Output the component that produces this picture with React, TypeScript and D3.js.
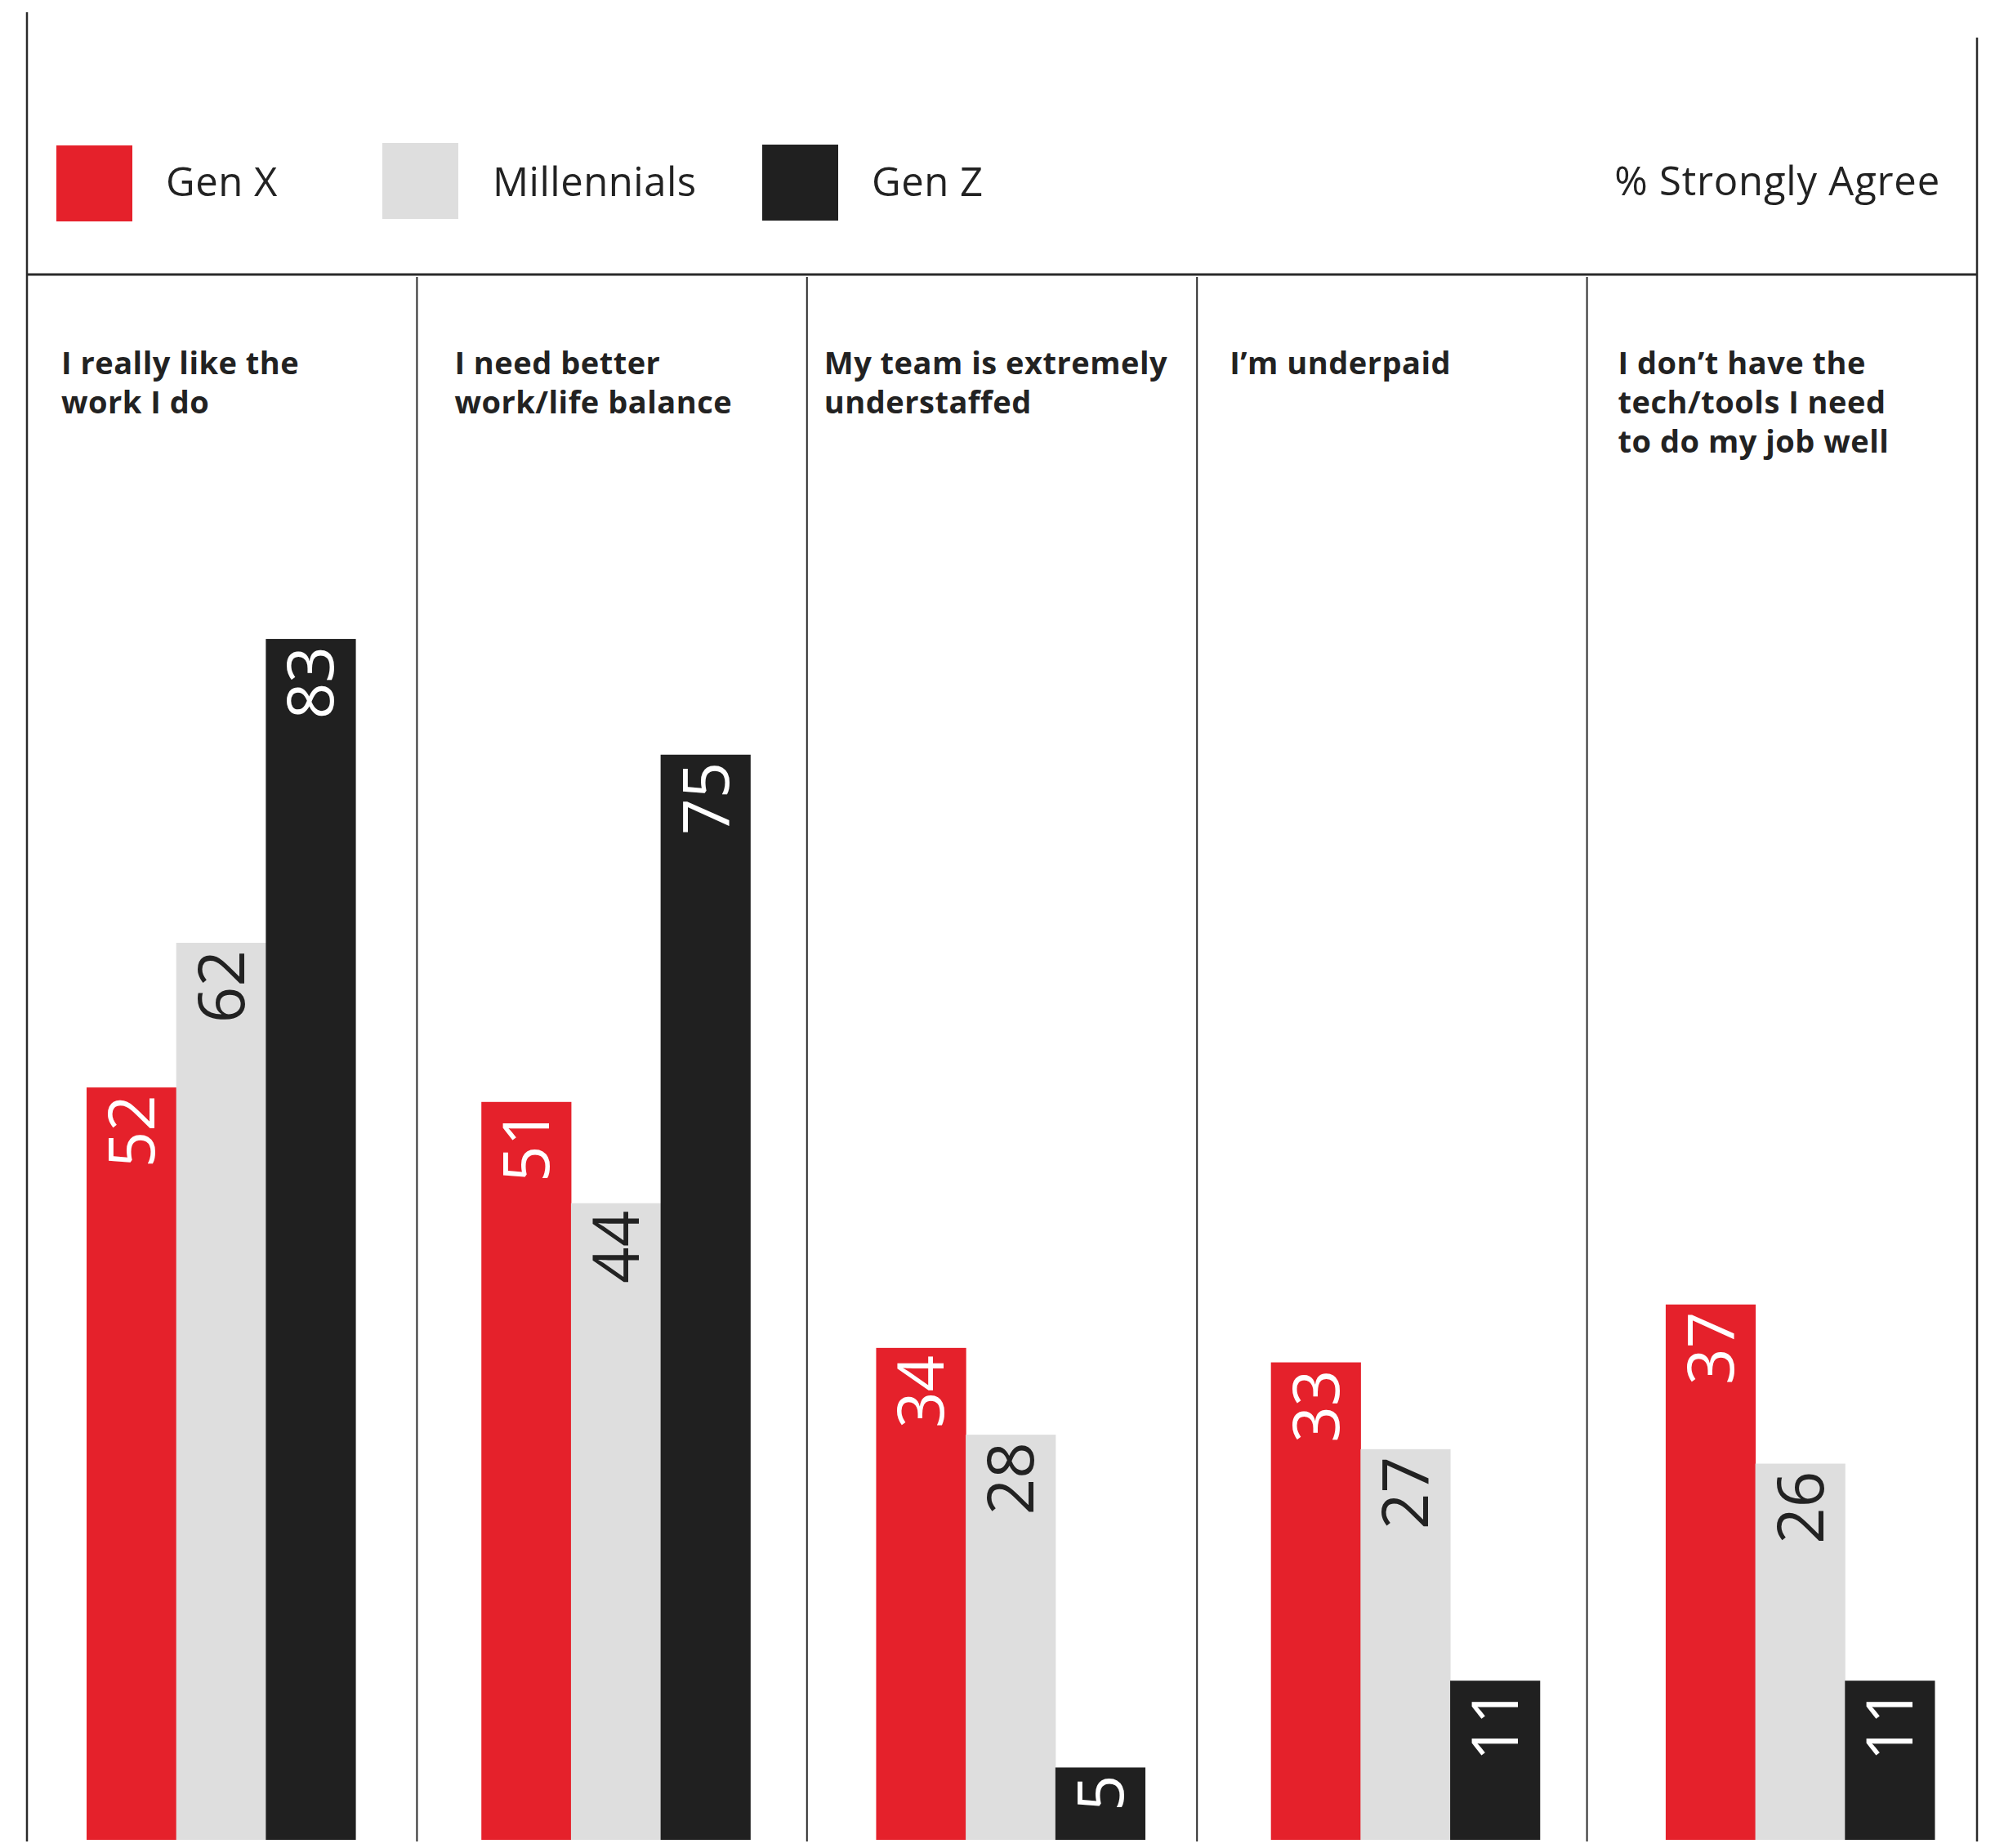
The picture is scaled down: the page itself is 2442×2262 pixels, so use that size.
import React from "react";
import * as d3 from "d3";

const categories = [
  "I really like the work I do",
  "I need better work/life balance",
  "My team is extremely understaffed",
  "I’m underpaid",
  "I don’t have the tech/tools I need to do my job well",
];
const categoryLines = [
  ["I really like the", "work I do"],
  ["I need better", "work/life balance"],
  ["My team is extremely", "understaffed"],
  ["I’m underpaid"],
  ["I don’t have the", "tech/tools I need", "to do my job well"],
];
const seriesNames = ["Gen X", "Millennials", "Gen Z"];
const genX = [52, 51, 34, 33, 37];
const millennials = [62, 44, 28, 27, 26];
const genZ = [83, 75, 5, 11, 11];
const seriesValues = [genX, millennials, genZ];
const unitLabel = "% Strongly Agree";

const COLORS = ["#E5212B", "#DEDEDE", "#202020"];
const LABEL_COLORS = ["#FFFFFF", "#222222", "#FFFFFF"];
const LABEL_OFFSETS = [42, 46, 21, 40, 38];
const FONT = "'Open Sans', 'Noto Sans', sans-serif";

export default function App() {
  const W = 2442;
  const H = 2262;
  const panelLeft = 33;
  const panelRight = 2420;
  const ruleY = 336;
  const baseY = 2252;

  const panels = d3.scaleBand<string>().domain(categories).range([panelLeft, panelRight]).padding(0);
  const x0 = d3
    .scaleBand<string>()
    .domain(categories)
    .range([106, 2368])
    .paddingInner(0.319)
    .paddingOuter(0);
  const x1 = d3.scaleBand<string>().domain(seriesNames).range([0, x0.bandwidth()]).padding(0);
  const y = d3.scaleLinear().domain([0, 100]).range([baseY, baseY - 1771]);

  const legendSquares = [
    { x: 69, y: 178 },
    { x: 468, y: 175 },
    { x: 933, y: 177 },
  ];
  const legendText = [203, 603, 1067];

  return (
    <svg
      width={W}
      height={H}
      style={{ position: "absolute", left: 0, top: 0, background: "#fff" }}
      fontFamily={FONT}
    >
      {/* frame lines */}
      <line x1={panelLeft} x2={panelLeft} y1={15} y2={2254} stroke="#2a2a2a" strokeWidth={2.5} />
      <line x1={panelRight} x2={panelRight} y1={46} y2={2254} stroke="#2a2a2a" strokeWidth={2.5} />
      <line x1={panelLeft} x2={panelRight} y1={ruleY} y2={ruleY} stroke="#2a2a2a" strokeWidth={3} />
      {categories.slice(1).map((c) => (
        <line
          key={c}
          x1={panels(c)!}
          x2={panels(c)!}
          y1={339}
          y2={2254}
          stroke="#2a2a2a"
          strokeWidth={2}
        />
      ))}

      {/* legend */}
      {seriesNames.map((s, i) => (
        <g key={s}>
          <rect x={legendSquares[i].x} y={legendSquares[i].y} width={93} height={93} fill={COLORS[i]} />
          <text x={legendText[i]} y={240} fontSize={49} fill="#222" letterSpacing={0.5}>
            {s}
          </text>
        </g>
      ))}
      <text x={2375} y={239} fontSize={49} fill="#222" textAnchor="end" letterSpacing={0.8}>
        {unitLabel}
      </text>

      {/* category labels */}
      {categories.map((c, ci) => (
        <text
          key={c}
          x={panels(c)! + LABEL_OFFSETS[ci]}
          y={458}
          fontSize={38}
          fontWeight={700}
          fill="#222"
          letterSpacing={0.5}
        >
          {categoryLines[ci].map((ln, li) => (
            <tspan key={li} x={panels(c)! + LABEL_OFFSETS[ci]} dy={li === 0 ? 0 : 48}>
              {ln}
            </tspan>
          ))}
        </text>
      ))}

      {/* bars */}
      {categories.map((c, ci) => (
        <g key={c} transform={`translate(${x0(c)},0)`}>
          {seriesNames.map((s, si) => {
            const v = seriesValues[si][ci];
            const bx = x1(s)!;
            const by = y(v);
            return (
              <g key={s}>
                <rect x={bx} y={by} width={x1.bandwidth() + 0.5} height={baseY - by} fill={COLORS[si]} />
                <text
                  transform={`translate(${bx + x1.bandwidth() / 2},${by + 9}) rotate(-90)`}
                  textAnchor="end"
                  dy="0.36em"
                  fontSize={78}
                  fill={LABEL_COLORS[si]}
                >
                  {v}
                </text>
              </g>
            );
          })}
        </g>
      ))}
    </svg>
  );
}
